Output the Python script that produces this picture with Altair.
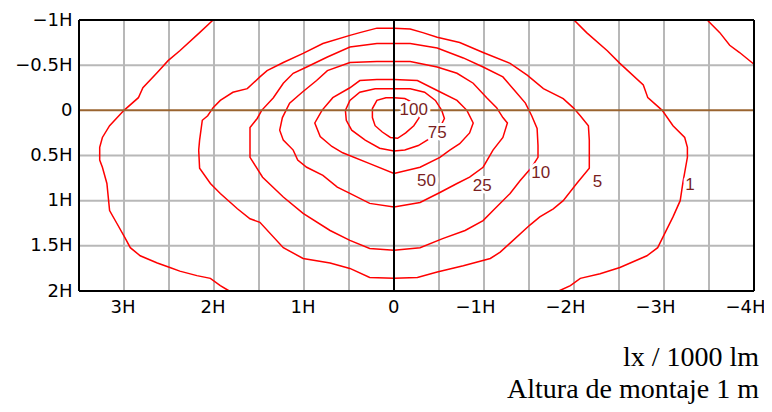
import altair as alt
import pandas as pd

# ---- isolux contour data, in units of mounting height H (x positive = left, as labelled) ----
c100_x = [0, -0.12, -0.22, -0.28, -0.28, -0.22, -0.13, -0.04, 0.04, 0.13, 0.21, 0.24, 0.24, 0.19, 0.09, 0]
c100_y = [-0.14, -0.13, -0.08, 0, 0.08, 0.17, 0.25, 0.31, 0.30, 0.24, 0.17, 0.08, -0.02, -0.11, -0.14, -0.14]

c75_x = [0, -0.18, -0.34, -0.46, -0.53, -0.56, -0.51, -0.40, -0.27, -0.12, 0, 0.16, 0.32, 0.47, 0.53, 0.54, 0.49, 0.38, 0.21, 0]
c75_y = [-0.24, -0.24, -0.20, -0.11, 0, 0.09, 0.19, 0.31, 0.39, 0.44, 0.45, 0.42, 0.33, 0.22, 0.11, 0, -0.11, -0.20, -0.24, -0.24]

c50_x = [0, -0.26, -0.48, -0.70, -0.81, -0.88, -0.84, -0.73, -0.62, -0.51, -0.29, 0, 0.27, 0.57, 0.69, 0.82, 0.88, 0.80, 0.68, 0.49, 0.38, 0.19, 0]
c50_y = [-0.34, -0.33, -0.22, -0.11, 0, 0.14, 0.25, 0.37, 0.44, 0.52, 0.63, 0.70, 0.59, 0.47, 0.40, 0.29, 0.14, 0, -0.14, -0.25, -0.33, -0.34, -0.34]

c25_x = [0, -0.18, -0.48, -0.70, -0.88, -1.03, -1.14, -1.21, -1.26, -1.21, -1.10, -0.99, -0.84, -0.70, -0.51, -0.29, 0,
         0.27, 0.49, 0.63, 0.79, 0.97, 1.07, 1.12, 1.23, 1.27, 1.24, 1.16, 1.02, 0.86, 0.74, 0.49, 0.19, 0]
c25_y = [-0.54, -0.54, -0.48, -0.41, -0.30, -0.14, -0.03, 0.08, 0.14, 0.30, 0.44, 0.63, 0.74, 0.81, 0.91, 1.02, 1.07,
         1.03, 0.92, 0.85, 0.72, 0.63, 0.55, 0.44, 0.33, 0.22, 0.08, -0.08, -0.20, -0.33, -0.44, -0.53, -0.54, -0.54]

c10_x = [0, -0.18, -0.48, -0.77, -0.99, -1.21, -1.34, -1.46, -1.53, -1.59, -1.60, -1.60, -1.53, -1.40, -1.29, -1.12,
         -0.99, -0.79, -0.54, -0.29, 0, 0.27, 0.49, 0.71, 1.01, 1.23, 1.46, 1.60, 1.60, 1.52, 1.47, 1.34, 1.23, 1.12,
         0.97, 0.74, 0.49, 0.19, 0]
c10_y = [-0.74, -0.74, -0.69, -0.58, -0.48, -0.37, -0.22, -0.08, 0.06, 0.20, 0.39, 0.52, 0.63, 0.78, 0.92, 1.09,
         1.22, 1.33, 1.42, 1.52, 1.55, 1.53, 1.44, 1.33, 1.14, 0.96, 0.74, 0.52, 0.19, 0.09, 0, -0.14, -0.30, -0.41,
         -0.48, -0.59, -0.70, -0.74, -0.74]

c5_x = [0, -0.18, -0.32, -0.48, -0.73, -0.99, -1.29, -1.48, -1.66, -1.88, -1.99, -2.07, -2.16, -2.17, -2.17, -2.03,
        -1.88, -1.77, -1.62, -1.51, -1.29, -1.18, -1.07, -0.77, -0.48, -0.26, 0, 0.27, 0.49, 0.71, 1.01, 1.23, 1.49,
        1.60, 1.74, 1.93, 2.04, 2.16, 2.17, 2.16, 2.13, 2.07, 2.01, 1.93, 1.79, 1.63, 1.49, 1.41, 1.23, 1.01, 0.79,
        0.49, 0.38, 0.19, 0]
c5_y = [-0.91, -0.90, -0.86, -0.81, -0.75, -0.64, -0.52, -0.39, -0.24, -0.13, -0.03, 0.06, 0.17, 0.33, 0.64, 0.81,
        1.0, 1.09, 1.18, 1.27, 1.47, 1.57, 1.64, 1.72, 1.79, 1.85, 1.86, 1.85, 1.75, 1.69, 1.64, 1.52, 1.24,
        1.20, 1.09, 0.92, 0.81, 0.64, 0.44, 0.33, 0.11, 0.06, -0.03, -0.11, -0.20, -0.24, -0.37, -0.44, -0.53, -0.63,
        -0.74, -0.83, -0.86, -0.91, -0.91]

c1_left_x = [2.01, 2.16, 2.38, 2.51, 2.63, 2.79, 2.84, 3.0, 3.16, 3.24, 3.27, 3.27, 3.24, 3.19, 3.16, 3.08, 2.99,
             2.93, 2.82, 2.63, 2.49, 2.38, 2.19, 2.04, 1.93, 1.83]
c1_left_y = [-1.0, -0.86, -0.66, -0.55, -0.42, -0.25, -0.14, 0, 0.17, 0.30, 0.41, 0.55, 0.63, 0.81, 1.11, 1.25, 1.41,
             1.52, 1.61, 1.69, 1.74, 1.78, 1.83, 1.86, 1.94, 2.0]

c1_right_x = [-2.0, -2.14, -2.37, -2.51, -2.77, -2.82, -2.98, -3.1, -3.23, -3.26, -3.26, -3.21, -3.18, -3.1, -3.01,
              -2.93, -2.81, -2.51, -2.29, -2.07, -1.96, -1.83]
c1_right_y = [-1.0, -0.86, -0.66, -0.52, -0.28, -0.14, 0, 0.17, 0.30, 0.41, 0.52, 0.80, 1.0, 1.18, 1.36, 1.52, 1.61,
              1.74, 1.81, 1.86, 1.94, 2.0]

c1_corner_x = [-3.48, -3.62, -3.73, -3.84, -4.0]
c1_corner_y = [-1.0, -0.86, -0.72, -0.64, -0.51]

# contour labels
label_text = ["100", "75", "50", "25", "10", "5", "1"]
label_x = [-0.22, -0.48, -0.36, -0.98, -1.63, -2.26, -3.29]
label_y = [0.0, 0.25, 0.78, 0.84, 0.69, 0.79, 0.83]

# axes, grid and frame
x_ticks = [3, 2, 1, 0, -1, -2, -3, -4]
y_ticks = [-1, -0.5, 0, 0.5, 1, 1.5, 2]
x_grid = [3.0, 2.5, 2.0, 1.5, 1.0, 0.5, -0.5, -1.0, -1.5, -2.0, -2.5, -3.0, -3.5]
y_grid = [-0.5, 0.5, 1.0, 1.5]
x_frame = [3.5, -4]
y_frame = [-1, 2]

pieces = [
    ("100", c100_x, c100_y), ("75", c75_x, c75_y), ("50", c50_x, c50_y), ("25", c25_x, c25_y),
    ("10", c10_x, c10_y), ("5", c5_x, c5_y), ("1a", c1_left_x, c1_left_y),
    ("1b", c1_right_x, c1_right_y), ("1c", c1_corner_x, c1_corner_y),
]
rows = []
for name, xs, ys in pieces:
    assert len(xs) == len(ys), name
    for i, (xv, yv) in enumerate(zip(xs, ys)):
        rows.append({"piece": name, "i": i, "x": xv, "y": yv})
contours = pd.DataFrame(rows)
labels = pd.DataFrame({"t": label_text, "x": label_x, "y": label_y})

xscale = alt.Scale(domain=[-4, 3.5], reverse=True, nice=False, zero=False)
yscale = alt.Scale(domain=[-1, 2], reverse=True, nice=False, zero=False)
lab_expr = "datum.value == 0 ? '0' : (datum.value < 0 ? '\u2212' : '') + abs(datum.value) + 'H'"

xaxis = alt.Axis(values=x_ticks, labelExpr=lab_expr, grid=False, ticks=False, domain=False, title=None,
                 labelFont="DejaVu Sans", labelFontSize=18, labelColor="black", labelPadding=7,
                 labelAlign="right",
                 labelOffset={"condition": {"test": "datum.value == 0", "value": 5}, "value": 11},
                 labelFlush=False, labelOverlap=False)
yaxis = alt.Axis(values=y_ticks, labelExpr=lab_expr, grid=False, ticks=False, domain=False, title=None,
                 labelFont="DejaVu Sans", labelFontSize=18, labelColor="black", labelPadding=7,
                 labelFlush=False, labelOverlap=False)


def X(field):
    return alt.X(field, scale=xscale, axis=xaxis)


def Y(field):
    return alt.Y(field, scale=yscale, axis=yaxis)


vgrid = alt.Chart(pd.DataFrame({"g": x_grid})).mark_rule(color="#b8b8b8", strokeWidth=2).encode(x=X("g:Q"))
hgrid = alt.Chart(pd.DataFrame({"g": y_grid})).mark_rule(color="#b8b8b8", strokeWidth=2).encode(y=Y("g:Q"))

lines = alt.Chart(contours).mark_line(color="#ff0000", strokeWidth=1.5).encode(
    x=X("x:Q"), y=Y("y:Q"), detail="piece:N", order="i:Q")

zero_h = alt.Chart(pd.DataFrame({"g": [0]})).mark_rule(color="#9a6430", strokeWidth=2).encode(y=Y("g:Q"))
zero_v = alt.Chart(pd.DataFrame({"g": [0]})).mark_rule(color="black", strokeWidth=2).encode(x=X("g:Q"))

frame_v = alt.Chart(pd.DataFrame({"g": x_frame})).mark_rule(color="black", strokeWidth=2).encode(x=X("g:Q"))
frame_h = alt.Chart(pd.DataFrame({"g": y_frame})).mark_rule(color="black", strokeWidth=2).encode(y=Y("g:Q"))

halo = alt.Chart(labels).mark_text(font="Liberation Sans", fontSize=17, color="white", stroke="white",
                                   strokeWidth=6, strokeJoin="round").encode(x=X("x:Q"), y=Y("y:Q"), text="t:N")
text = alt.Chart(labels).mark_text(font="Liberation Sans", fontSize=17, color="#7a1f1f").encode(
    x=X("x:Q"), y=Y("y:Q"), text="t:N")

chart = alt.layer(vgrid, hgrid, lines, zero_h, zero_v, frame_v, frame_h, halo, text).properties(
    width=675, height=271,
    autosize=alt.AutoSizeParams(type="none"),
    padding={"left": 71, "top": 12, "right": 10, "bottom": 113},
    title=alt.TitleParams(text=["lx / 1000 lm", "Altura de montaje 1 m"], orient="bottom", anchor="end",
                          frame="group", font="Liberation Serif", fontSize=28, fontWeight="normal",
                          color="black", lineHeight=32, offset=28, dx=5),
).configure_view(stroke=None)

chart.save("out.html", embed_options={"renderer": "svg", "actions": False})
